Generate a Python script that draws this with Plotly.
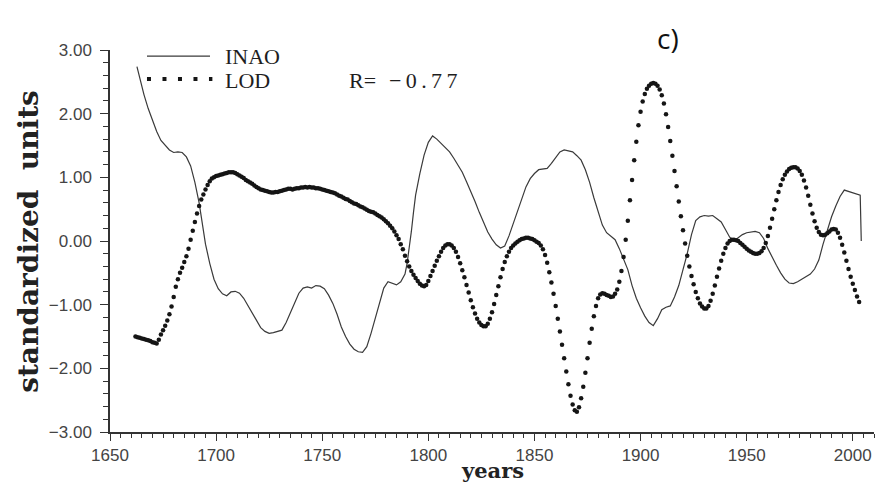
import plotly.graph_objects as go

# Instrumental NAO index reconstruction (smoothed), standardized
inao_years = [1662.7, 1664, 1666, 1668, 1670, 1672, 1674, 1676, 1678, 1680,
              1682, 1684, 1686, 1688, 1690, 1692, 1694, 1695, 1697, 1699,
              1701, 1703, 1705, 1707, 1709, 1711, 1713, 1715, 1717, 1719,
              1721, 1723, 1725, 1727, 1729, 1731, 1733, 1735, 1737, 1739,
              1741, 1743, 1745, 1747, 1749, 1751, 1753, 1755, 1757, 1759,
              1761, 1763, 1765, 1767, 1769, 1771, 1773, 1775, 1777, 1779,
              1781, 1783, 1785, 1787, 1789, 1790, 1791, 1792, 1793, 1794,
              1796, 1798, 1800, 1802, 1804, 1806, 1808, 1810, 1812, 1814,
              1816, 1818, 1820, 1822, 1824, 1826, 1828, 1830, 1832, 1834,
              1836, 1838, 1840, 1842, 1844, 1846, 1848, 1850, 1852, 1854,
              1856, 1858, 1860, 1862, 1864, 1866, 1868, 1870, 1872, 1874,
              1876, 1878, 1880, 1882, 1884, 1886, 1888, 1890, 1892, 1894,
              1896, 1898, 1900, 1902, 1904, 1906, 1908, 1910, 1912, 1914,
              1916, 1918, 1920, 1922, 1924, 1926, 1928, 1930, 1932, 1934,
              1936, 1938, 1940, 1942, 1944, 1946, 1948, 1950, 1952, 1954,
              1956, 1958, 1960, 1962, 1964, 1966, 1968, 1970, 1972, 1974,
              1976, 1978, 1980, 1982, 1984, 1986, 1988, 1990, 1992, 1994,
              1996, 1998, 2000, 2002, 2003.5, 2004]
inao_values = [2.74, 2.55, 2.30, 2.08, 1.90, 1.72, 1.58, 1.50, 1.43, 1.39,
               1.40, 1.39, 1.32, 1.18, 0.92, 0.60, 0.15, -0.05, -0.35, -0.60,
               -0.75, -0.83, -0.86, -0.80, -0.79, -0.82, -0.90, -1.02, -1.13, -1.25,
               -1.36, -1.42, -1.45, -1.44, -1.42, -1.40, -1.28, -1.12, -0.95, -0.82,
               -0.74, -0.72, -0.74, -0.70, -0.71, -0.75, -0.85, -0.98, -1.15, -1.35,
               -1.50, -1.62, -1.70, -1.74, -1.75, -1.66, -1.45, -1.22, -0.95, -0.74,
               -0.64, -0.66, -0.69, -0.64, -0.52, -0.35, -0.12, 0.15, 0.45, 0.72,
               1.06, 1.35, 1.55, 1.65, 1.60, 1.53, 1.46, 1.40, 1.30, 1.20,
               1.08, 0.93, 0.78, 0.62, 0.45, 0.28, 0.14, 0.03, -0.06, -0.11,
               -0.08, 0.08, 0.28, 0.48, 0.66, 0.85, 0.98, 1.06, 1.12, 1.13,
               1.14, 1.22, 1.32, 1.40, 1.43, 1.42, 1.40, 1.34, 1.27, 1.12,
               0.92, 0.68, 0.48, 0.25, 0.13, 0.08, 0.02, -0.12, -0.28, -0.45,
               -0.70, -0.90, -1.05, -1.18, -1.28, -1.33, -1.22, -1.08, -1.04, -1.02,
               -0.88, -0.70, -0.45, -0.20, 0.10, 0.32, 0.38, 0.40, 0.39, 0.40,
               0.35, 0.30, 0.18, 0.06, 0.00, 0.05, 0.10, 0.13, 0.14, 0.15,
               0.13, 0.04, -0.12, -0.26, -0.38, -0.50, -0.60, -0.66, -0.67, -0.64,
               -0.60, -0.56, -0.52, -0.44, -0.30, -0.05, 0.18, 0.38, 0.55, 0.70,
               0.80, 0.78, 0.76, 0.74, 0.72, 0.00]

# Length of day anomaly (annual, standardized), 1662-2003
lod_first_year = 1662
lod_values = [
    -1.50, -1.51, -1.52, -1.53, -1.54, -1.55, -1.56, -1.57, -1.59, -1.60,  # 1662-
    -1.61, -1.55, -1.47, -1.40, -1.33, -1.25, -1.15, -1.03, -0.88, -0.72,  # 1672-
    -0.60, -0.50, -0.42, -0.33, -0.24, -0.12, 0.02, 0.16, 0.30, 0.43,      # 1682-
    0.55, 0.65, 0.73, 0.81, 0.88, 0.94, 0.98, 1.00, 1.02, 1.03,            # 1692-
    1.04, 1.05, 1.06, 1.07, 1.08, 1.08, 1.08, 1.07, 1.05, 1.03,            # 1702-
    1.01, 0.99, 0.96, 0.94, 0.92, 0.90, 0.87, 0.85, 0.83, 0.81,            # 1712-
    0.80, 0.79, 0.78, 0.77, 0.76, 0.76, 0.77, 0.77, 0.78, 0.79,            # 1722-
    0.80, 0.81, 0.82, 0.82, 0.81, 0.82, 0.83, 0.83, 0.84, 0.84,            # 1732-
    0.85, 0.84, 0.85, 0.84, 0.84, 0.83, 0.83, 0.82, 0.81, 0.80,            # 1742-
    0.79, 0.78, 0.77, 0.76, 0.75, 0.73, 0.71, 0.70, 0.68, 0.66,            # 1752-
    0.65, 0.63, 0.61, 0.59, 0.58, 0.56, 0.54, 0.53, 0.51, 0.49,            # 1762-
    0.47, 0.46, 0.45, 0.43, 0.41, 0.39, 0.37, 0.34, 0.31, 0.28,            # 1772-
    0.24, 0.20, 0.15, 0.09, 0.03, -0.05, -0.13, -0.23, -0.32, -0.40,       # 1782-
    -0.47, -0.53, -0.58, -0.63, -0.67, -0.70, -0.71, -0.69, -0.63, -0.55,  # 1792-
    -0.47, -0.39, -0.31, -0.24, -0.17, -0.11, -0.07, -0.05, -0.05, -0.07,  # 1802-
    -0.11, -0.17, -0.25, -0.35, -0.46, -0.57, -0.69, -0.81, -0.93, -1.04,  # 1812-
    -1.14, -1.22, -1.28, -1.32, -1.34, -1.34, -1.30, -1.22, -1.12, -0.99,  # 1822-
    -0.85, -0.71, -0.57, -0.44, -0.33, -0.24, -0.17, -0.11, -0.07, -0.04,  # 1832-
    -0.01, 0.01, 0.03, 0.04, 0.05, 0.05, 0.04, 0.03, 0.01, -0.01,          # 1842-
    -0.03, -0.07, -0.13, -0.22, -0.34, -0.49, -0.65, -0.83, -1.02, -1.22,  # 1852-
    -1.42, -1.63, -1.84, -2.05, -2.25, -2.43, -2.57, -2.66, -2.68, -2.61,  # 1862-
    -2.47, -2.29, -2.07, -1.84, -1.60, -1.38, -1.18, -1.02, -0.90, -0.84,  # 1872-
    -0.82, -0.83, -0.85, -0.86, -0.88, -0.87, -0.83, -0.76, -0.64, -0.47,  # 1882-
    -0.25, 0.02, 0.32, 0.64, 0.96, 1.27, 1.56, 1.82, 2.03, 2.19,           # 1892-
    2.31, 2.39, 2.44, 2.47, 2.48, 2.47, 2.44, 2.38, 2.29, 2.16,            # 1902-
    1.99, 1.79, 1.57, 1.34, 1.10, 0.86, 0.62, 0.39, 0.17, -0.04,           # 1912-
    -0.23, -0.40, -0.55, -0.68, -0.80, -0.90, -0.98, -1.03, -1.06, -1.06,  # 1922-
    -1.02, -0.94, -0.83, -0.70, -0.56, -0.43, -0.31, -0.20, -0.11, -0.04,  # 1932-
    0.00, 0.02, 0.02, 0.01, 0.00, -0.03, -0.06, -0.09, -0.12, -0.15,       # 1942-
    -0.17, -0.19, -0.20, -0.20, -0.19, -0.16, -0.11, -0.03, 0.08, 0.21,    # 1952-
    0.35, 0.50, 0.64, 0.77, 0.88, 0.97, 1.04, 1.09, 1.13, 1.15,            # 1962-
    1.16, 1.16, 1.14, 1.10, 1.04, 0.95, 0.84, 0.71, 0.57, 0.43,            # 1972-
    0.31, 0.21, 0.14, 0.10, 0.09, 0.10, 0.12, 0.15, 0.18, 0.19,            # 1982-
    0.18, 0.13, 0.05, -0.06, -0.18, -0.31, -0.44, -0.56, -0.67, -0.77,     # 1992-
    -0.87, -0.96,                                                          # 2002-
]
lod_years = [lod_first_year + i for i in range(len(lod_values))]

r_prefix = "R="
r_value = "\u2212\u20090\u2009.\u20097\u20097"
x_ticks = [1650, 1700, 1750, 1800, 1850, 1900, 1950, 2000]
y_ticks = [-3, -2, -1, 0, 1, 2, 3]

AXIS = "#333333"
TICK_FONT = dict(family="Liberation Sans", size=17, color="#444444")
SERIF = "DejaVu Serif"
LEGEND_FONT = dict(family="Liberation Serif", size=22, color="#1e1e1e")

fig = go.Figure()
fig.add_trace(go.Scatter(
    x=inao_years, y=inao_values, mode="lines", name="INAO",
    line=dict(color="#3a3a3a", width=1.2), showlegend=False))
fig.add_trace(go.Scatter(
    x=lod_years, y=lod_values, mode="markers", name="LOD",
    marker=dict(color="#151515", size=4.5, symbol="circle"), showlegend=False))

fig.update_layout(
    width=879, height=484,
    margin=dict(l=110, r=5, t=50, b=52),
    paper_bgcolor="white", plot_bgcolor="white",
    xaxis=dict(
        range=[1650, 2010], tickvals=x_ticks, ticks="outside",
        ticklen=7, tickwidth=1.3, tickcolor=AXIS,
        showline=True, linecolor=AXIS, linewidth=1.5,
        showgrid=False, zeroline=False, tickfont=TICK_FONT,
        automargin=False,
        minor=dict(dtick=5, ticks="outside", ticklen=4, tickwidth=1.1,
                   tickcolor=AXIS, showgrid=False),
    ),
    yaxis=dict(
        range=[-3, 3], tickvals=y_ticks, tickformat=".2f", ticks="outside",
        ticklen=8, tickwidth=1.3, tickcolor=AXIS,
        showline=True, linecolor=AXIS, linewidth=1.5,
        showgrid=False, zeroline=False, tickfont=TICK_FONT,
        automargin=False, ticklabelstandoff=5,
        minor=dict(dtick=0.2, ticks="outside", ticklen=5, tickwidth=1.1,
                   tickcolor=AXIS, showgrid=False),
    ),
)

# Axis titles
fig.add_annotation(text="years", xref="paper", yref="paper", x=0.5, y=-0.101,
                   showarrow=False, xanchor="center", yanchor="middle",
                   font=dict(family=SERIF, size=21, color="#222222", weight="bold"))
fig.add_annotation(text="standardized\u00a0\u00a0units", xref="paper", yref="paper",
                   x=-0.1075, y=0.5, textangle=-90, showarrow=False,
                   xanchor="center", yanchor="middle",
                   font=dict(family=SERIF, size=28, color="#222222", weight="bold"))

# Legend keys
fig.add_shape(type="line", xref="paper", yref="paper", x0=0.0484, x1=0.1309,
              y0=0.984, y1=0.984, line=dict(color="#3a3a3a", width=1.2))
fig.add_shape(type="line", xref="paper", yref="paper", x0=0.0484, x1=0.1340,
              y0=0.924, y1=0.924, line=dict(color="#151515", width=4, dash="4px,11.5px"))
fig.add_annotation(text="INAO", xref="paper", yref="paper", x=0.1480, y=0.982,
                   showarrow=False, xanchor="left", yanchor="middle", font=LEGEND_FONT)
fig.add_annotation(text="LOD", xref="paper", yref="paper", x=0.1480, y=0.921,
                   showarrow=False, xanchor="left", yanchor="middle", font=LEGEND_FONT)
fig.add_annotation(text=r_prefix, xref="paper", yref="paper", x=0.3102, y=0.921,
                   showarrow=False, xanchor="left", yanchor="middle", font=LEGEND_FONT)
fig.add_annotation(text=r_value, xref="paper", yref="paper", x=0.3625, y=0.921,
                   showarrow=False, xanchor="left", yanchor="middle", font=LEGEND_FONT)

# Panel label
fig.add_annotation(text="c)", xref="paper", yref="paper", x=0.730, y=1.031,
                   showarrow=False, xanchor="center", yanchor="middle",
                   font=dict(family="Open Sans", size=28, color="#111111"))

fig.write_html("out.html")
